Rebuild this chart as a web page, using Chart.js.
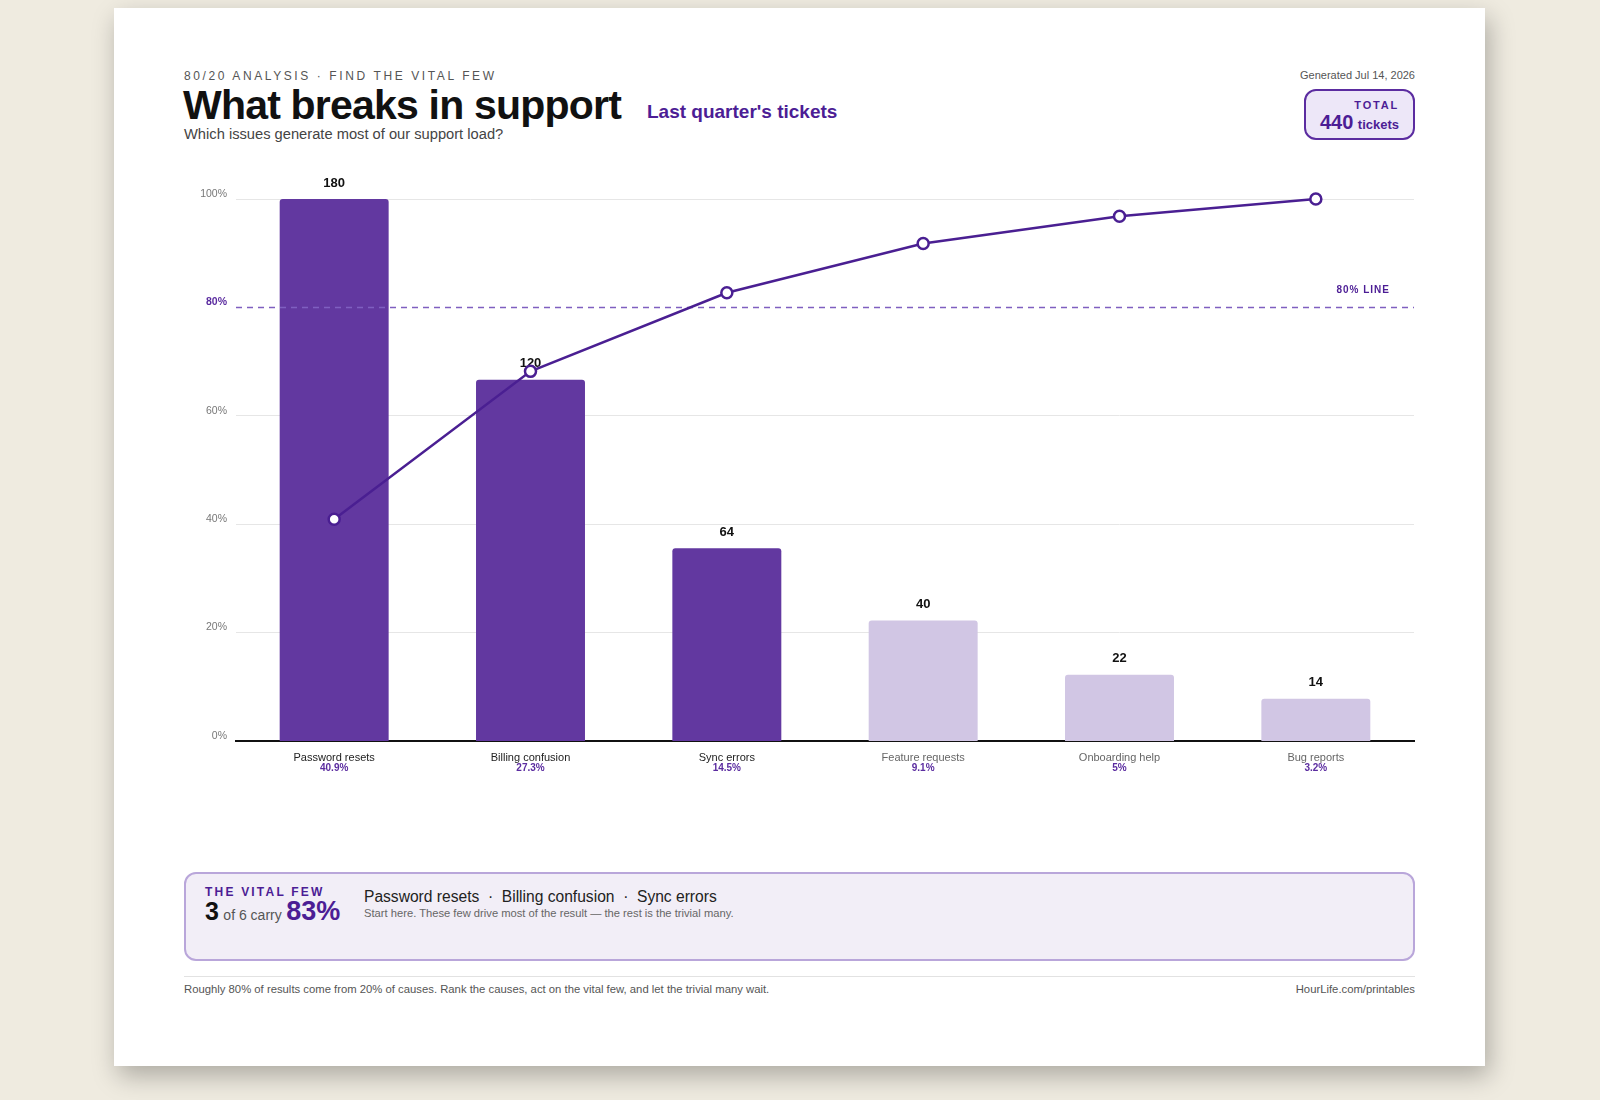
<!DOCTYPE html>
<html>
<head>
<meta charset="UTF-8" />
<title>What breaks in support</title>
<script src="https://cdn.jsdelivr.net/npm/chart.js"></script>
<style>
  body { margin: 0; background: #efebe0; font-family: "Liberation Sans", Helvetica, Arial, sans-serif; width: 1600px; height: 1100px; overflow: hidden; }
  .card { position: absolute; left: 114px; top: 8px; width: 1371px; height: 1058px; background: #fff; box-shadow: 4px 10px 24px rgba(0,0,0,0.28); }
  .eyebrow { position: absolute; left: 70px; top: 61px; font-size: 12px; letter-spacing: 2.6px; color: #555; }
  .title { position: absolute; left: 69px; top: 74px; font-size: 41px; font-weight: bold; color: #111; letter-spacing: -0.8px; }
  .subtag { position: absolute; left: 533px; top: 93px; font-size: 19px; font-weight: bold; color: #4c1d95; }
  .question { position: absolute; left: 70px; top: 118px; font-size: 14.7px; color: #444; }
  .generated { position: absolute; right: 70px; top: 61px; font-size: 11px; color: #555; }
  .total { position: absolute; right: 70px; top: 81px; width: 111px; height: 51px; box-sizing: border-box; border: 2px solid #5b2ca0; border-radius: 12px; background: #ede7f8; text-align: right; padding: 8px 14px 0 0; }
  .total .lbl { font-size: 11px; font-weight: bold; letter-spacing: 1.8px; color: #4c1d95; }
  .total .num { font-size: 20px; font-weight: bold; color: #4c1d95; }
  .total .unit { font-size: 13px; font-weight: bold; color: #4c1d95; }
  .chart-wrap { position: absolute; left: 70px; top: 152px; width: 1238px; height: 630px; }
  .vital { position: absolute; left: 70px; top: 864px; width: 1231px; height: 89px; box-sizing: border-box; border: 2px solid #b9a6da; border-radius: 12px; background: #f2eef7; }
  .vital .head { position: absolute; left: 19px; top: 11px; font-size: 12px; font-weight: bold; letter-spacing: 2.2px; color: #4c1d95; }
  .vital .count { position: absolute; left: 19px; top: 22px; white-space: nowrap; }
  .vital .big { font-size: 25px; font-weight: bold; color: #111; }
  .vital .of { font-size: 14px; color: #555; }
  .vital .pct { font-size: 27px; font-weight: bold; color: #4c1d95; }
  .vital .names { position: absolute; left: 178px; top: 14px; font-size: 15.6px; color: #222; }
  .vital .note { position: absolute; left: 178px; top: 33px; font-size: 11.2px; color: #666; }
  .rule { position: absolute; left: 70px; top: 968px; width: 1231px; height: 1px; background: #e2e2e2; }
  .foot { position: absolute; left: 70px; top: 975px; font-size: 11.3px; color: #555; }
  .foot-r { position: absolute; right: 70px; top: 975px; font-size: 11.3px; color: #555; }
</style>
</head>
<body>
<div class="card">
  <div class="eyebrow">80/20 ANALYSIS · FIND THE VITAL FEW</div>
  <div class="title">What breaks in support</div>
  <div class="subtag">Last quarter's tickets</div>
  <div class="question">Which issues generate most of our support load?</div>
  <div class="generated">Generated Jul 14, 2026</div>
  <div class="total"><div class="lbl">TOTAL</div><span class="num">440</span> <span class="unit">tickets</span></div>
  <div class="chart-wrap"><canvas id="pareto"></canvas></div>
  <div class="vital">
    <div class="head">THE VITAL FEW</div>
    <div class="count"><span class="big">3</span> <span class="of">of 6 carry</span> <span class="pct">83%</span></div>
    <div class="names">Password resets &nbsp;·&nbsp; Billing confusion &nbsp;·&nbsp; Sync errors</div>
    <div class="note">Start here. These few drive most of the result — the rest is the trivial many.</div>
  </div>
  <div class="rule"></div>
  <div class="foot">Roughly 80% of results come from 20% of causes. Rank the causes, act on the vital few, and let the trivial many wait.</div>
  <div class="foot-r">HourLife.com/printables</div>
</div>
<script>
const categories = ["Password resets", "Billing confusion", "Sync errors", "Feature requests", "Onboarding help", "Bug reports"];
const ticketCounts = [180, 120, 64, 40, 22, 14];
const sharePct = ["40.9%", "27.3%", "14.5%", "9.1%", "5%", "3.2%"];
const cumulativePct = [40.9, 68.2, 82.7, 91.8, 96.8, 100];
const isVitalFew = [true, true, true, false, false, false];
const percentTicks = [0, 20, 40, 60, 80, 100];
const thresholdPct = 80;

const FONT = '"Liberation Sans", Helvetica, Arial, sans-serif';
const DARK = "#6238a0";
const LIGHT = "#d1c6e4";
const LINE = "#4a1f92";

const tickVal = ctx => (ctx && ctx.tick) ? ctx.tick.value : null;

const paretoExtras = {
  id: "paretoExtras",
  afterDatasetDraw(chart, args) {
    if (args.meta.type !== "bar") return;
    const { ctx, chartArea } = chart;
    const y80 = chart.scales.y.getPixelForValue(thresholdPct);
    ctx.save();
    ctx.strokeStyle = "#7f5fc0";
    ctx.lineWidth = 1.5;
    ctx.setLineDash([6, 5]);
    ctx.beginPath();
    ctx.moveTo(chartArea.left, y80);
    ctx.lineTo(chartArea.right, y80);
    ctx.stroke();
    ctx.setLineDash([]);
    ctx.fillStyle = "#4c1d95";
    ctx.font = "bold 10px " + FONT;
    ctx.textAlign = "right";
    ctx.textBaseline = "middle";
    ctx.letterSpacing = "1px";
    ctx.fillText("80% LINE", chartArea.right - 24, y80 - 17);
    ctx.letterSpacing = "0px";

    // counts above bars
    ctx.fillStyle = "#111";
    ctx.font = "bold 13px " + FONT;
    ctx.textAlign = "center";
    args.meta.data.forEach((bar, i) => {
      ctx.fillText(ticketCounts[i], bar.x, bar.y - 16);
    });

    // share under each category name
    const x = chart.scales.x;
    ctx.fillStyle = "#5b2ca0";
    ctx.font = "bold 10px " + FONT;
    categories.forEach((c, i) => {
      ctx.fillText(sharePct[i], x.getPixelForValue(i), chartArea.bottom + 27);
    });
    ctx.restore();
  }
};

new Chart(document.getElementById("pareto"), {
  data: {
    labels: categories,
    datasets: [
      {
        type: "line",
        label: "Cumulative",
        data: cumulativePct,
        yAxisID: "y",
        order: 0,
        clip: false,
        borderColor: LINE,
        borderWidth: 2.5,
        pointRadius: 5.5,
        pointBorderWidth: 2.5,
        pointBackgroundColor: "#fff",
        pointBorderColor: LINE,
        tension: 0
      },
      {
        type: "bar",
        label: "Tickets",
        data: ticketCounts,
        yAxisID: "yCount",
        order: 1,
        backgroundColor: isVitalFew.map(v => v ? DARK : LIGHT),
        borderRadius: { topLeft: 3, topRight: 3 },
        borderSkipped: "bottom",
        barPercentage: 0.555,
        categoryPercentage: 1
      }
    ]
  },
  options: {
    responsive: true,
    maintainAspectRatio: false,
    animation: false,
    layout: { padding: { top: 39, right: 0, left: 0, bottom: 0 } },
    plugins: { legend: { display: false }, tooltip: { enabled: false } },
    scales: {
      x: {
        grid: { display: false, drawTicks: false },
        border: { color: "#111", width: 2 },
        ticks: {
          padding: 10,
          font: { family: FONT, size: 11 },
          color: ctx => isVitalFew[ctx.index] ? "#222" : "#666"
        },
        afterFit: s => { s.height = 49; }
      },
      y: {
        position: "left",
        min: 0,
        max: 100,
        afterBuildTicks: s => { s.ticks = percentTicks.map(v => ({ value: v })); },
        border: { display: false },
        grid: {
          drawTicks: false,
          color: ctx => (tickVal(ctx) === thresholdPct || tickVal(ctx) === 0) ? "rgba(0,0,0,0)" : "#e6e6e6",
          lineWidth: 1
        },
        ticks: {
          padding: 9,
          labelOffset: -5,
          callback: v => v + "%",
          color: ctx => tickVal(ctx) === thresholdPct ? "#5b2ca0" : "#777",
          font: ctx => ({ family: FONT, size: 10.5, weight: tickVal(ctx) === thresholdPct ? "bold" : "normal" })
        },
        afterFit: s => { s.width = 52; }
      },
      yCount: {
        display: false,
        min: 0,
        max: Math.max(...ticketCounts)
      }
    }
  },
  plugins: [paretoExtras]
});
</script>
</body>
</html>
